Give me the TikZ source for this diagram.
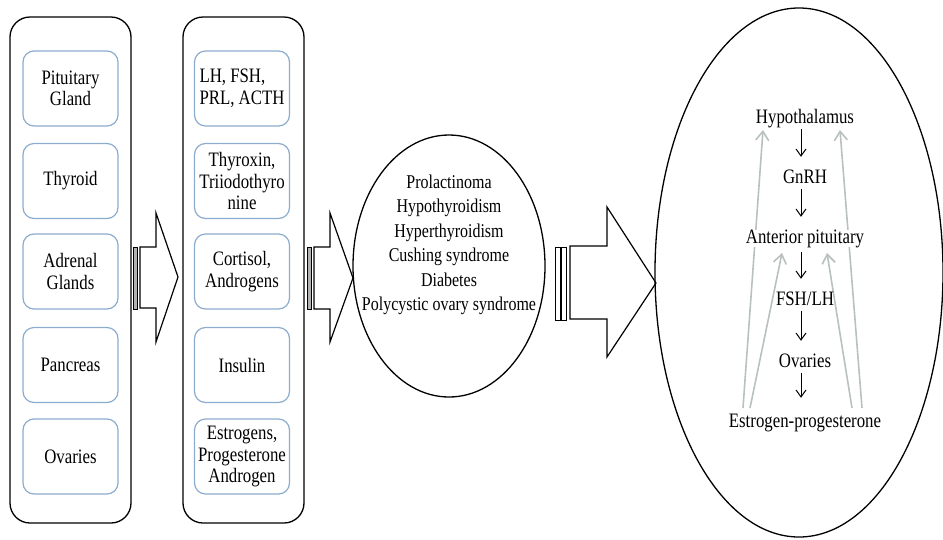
\documentclass[tikz,border=0pt]{standalone}
\usepackage{fontspec}
\setmainfont[FakeStretch=0.82]{Liberation Serif}
\usetikzlibrary{shapes.geometric,arrows.meta}
\definecolor{boxblue}{RGB}{140,172,205}
\definecolor{fbgray}{RGB}{185,192,192}
\begin{document}
\begin{tikzpicture}[x=1pt,y=-1pt,
  container/.style={draw=black,line width=1.3pt,rounded corners=20pt,minimum width=121pt,minimum height=506pt},
  inbox/.style={draw=boxblue,line width=1.2pt,rounded corners=11pt,minimum width=95pt,minimum height=75pt,align=center,inner sep=1pt,font=\fontsize{20.5}{21.5}\selectfont},
  blockarr/.style={draw=black,line width=1.2pt,fill=white,line join=miter},
  barrect/.style={draw=black,line width=0.9pt,fill=gray!60},
  oval/.style={ellipse,draw=black,line width=1.3pt,inner sep=0pt},
  ltxt/.style={font=\fontsize{19.5}{24.5}\selectfont,align=center,inner sep=0pt},
  ctxt/.style={font=\fontsize{20.5}{22}\selectfont,anchor=base,inner sep=0pt,text height=13pt,text depth=4pt},
  darr/.style={draw=black,line width=1pt,-{Straight Barb[length=7pt,width=10pt]},shorten <=2pt,shorten >=13pt},
  farr/.style={draw=fbgray,line width=1.6pt,-{Straight Barb[length=9pt,width=13pt]}}
]
\useasboundingbox (0,0) rectangle (943,539);

% containers
\node[container] (c1) at (70.5,270) {};
\node[container] (c2) at (243.5,270) {};

% left boxes
\node[inbox] (b1) at (70.5,88.5) {Pituitary\\Gland};
\node[inbox] (b2) at (70.5,181) {Thyroid};
\node[inbox] (b3) at (70.5,271.5) {Adrenal\\Glands};
\node[inbox] (b4) at (70.5,365) {Pancreas};
\node[inbox] (b5) at (70.5,456.5) {Ovaries};

% right boxes
\node[inbox,align=left] (h1) at (242,88.5) {LH, FSH,\\PRL, ACTH};
\node[inbox] (h2) at (242,181) {Thyroxin,\\Triiodothyro\\nine};
\node[inbox] (h3) at (242,271.5) {Cortisol,\\Androgens};
\node[inbox] (h4) at (242,365) {Insulin};
\node[inbox] (h5) at (242,456.5) {Estrogens,\\Progesterone\\Androgen};

% block arrow 1
\draw[barrect] (133,247) rectangle (137,309);
\draw[blockarr] (140,247) -- (156,247) -- (156,213) -- (178,277) -- (156,342) -- (156,308) -- (140,308) -- cycle;

% block arrow 2
\draw[barrect] (307,247) rectangle (311.5,309);
\draw[blockarr] (314,247) -- (330,247) -- (330,213) -- (353,278) -- (330,342) -- (330,309) -- (314,309) -- cycle;

% ellipse 1
\node[oval,minimum width=192pt,minimum height=262pt] (e1) at (449,266) {};
\node[ltxt] (dis) at (449,245) {Prolactinoma\\Hypothyroidism\\Hyperthyroidism\\Cushing syndrome\\Diabetes\\Polycystic ovary syndrome};

% block arrow 3
\draw[barrect,fill=white] (555,247) rectangle (560.5,320);
\draw[barrect,fill=white] (561,247) rectangle (566.5,320);
\draw[blockarr] (570,246) -- (607,246) -- (607,207) -- (656,283) -- (607,357) -- (607,319) -- (570,319) -- cycle;

% ellipse 2
\node[oval,minimum width=288pt,minimum height=529pt] (e2) at (799,272.5) {};

% feedback arrows (gray)
\coordinate (fa1) at (743,408);
\coordinate (fb1) at (763,130);
\coordinate (fa2) at (750,408);
\coordinate (fb2) at (782,253);
\coordinate (fa3) at (852,408);
\coordinate (fb3) at (827,253);
\coordinate (fa4) at (862,408);
\coordinate (fb4) at (840,130);
\draw[farr] (fa1) -- (fb1);
\draw[farr] (fa2) -- (fb2);
\draw[farr] (fa3) -- (fb3);
\draw[farr] (fa4) -- (fb4);

% axis texts
\node[ctxt,fill=white,inner xsep=1pt] (hyp) at (805,123) {Hypothalamus};
\node[ctxt] (gnrh) at (805,183) {GnRH};
\node[ctxt,fill=white,inner xsep=1pt] (ant) at (805,243) {Anterior pituitary};
\node[ctxt] (fsh) at (805,305) {FSH/LH};
\node[ctxt] (ova) at (805,367) {Ovaries};
\node[ctxt,fill=white,inner xsep=1pt] (est) at (805,427) {Estrogen-progesterone};

\draw[darr] ([xshift=-4pt]hyp.south) -- ([xshift=-4pt]gnrh.north);
\draw[darr] ([xshift=-4pt]gnrh.south) -- ([xshift=-4pt]ant.north);
\draw[darr,shorten <=5pt] ([xshift=-4pt]ant.south) -- ([xshift=-4pt]fsh.north);
\draw[darr] ([xshift=-4pt]fsh.south) -- ([xshift=-4pt]ova.north);
\draw[darr,shorten >=16pt] ([xshift=-4pt]ova.south) -- ([xshift=-4pt]est.north);
\end{tikzpicture}
\end{document}
